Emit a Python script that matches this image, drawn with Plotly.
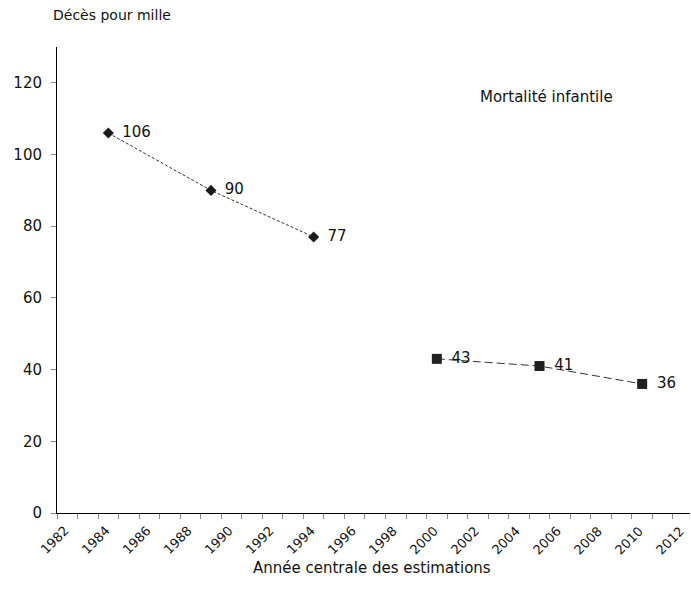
import plotly.graph_objects as go

years_a = [1984.5, 1989.5, 1994.5]
values_a = [106, 90, 77]
years_b = [2000.5, 2005.5, 2010.5]
values_b = [43, 41, 36]
x_tick_values = [1982, 1984, 1986, 1988, 1990, 1992, 1994, 1996, 1998,
                 2000, 2002, 2004, 2006, 2008, 2010, 2012]
x_tick_labels = ["1982", "1984", "1986", "1988", "1990", "1992", "1994", "1996",
                 "1998", "2000", "2002", "2004", "2006", "2008", "2010", "2012"]
y_title = "Décès pour mille"
x_title = "Année centrale des estimations"
series_note = "Mortalité infantile"

FONT = "DejaVu Sans"
W, H = 691, 601
L, R, T, B = 57, 1, 47, 88

fig = go.Figure()
fig.add_trace(go.Scatter(
    x=years_a, y=values_a, mode="lines+markers+text",
    texttemplate="\u2002%{y}", textposition="middle right",
    textfont=dict(family=FONT, size=15, color="#111111"),
    line=dict(color="#333333", width=1, dash="3px,2px"),
    marker=dict(symbol="diamond", size=8.5, color="#1a1a1a"),
    showlegend=False, cliponaxis=False))
fig.add_trace(go.Scatter(
    x=years_b, y=values_b, mode="lines+markers+text",
    texttemplate="\u2002%{y}", textposition="middle right",
    textfont=dict(family=FONT, size=15, color="#111111"),
    line=dict(color="#333333", width=1, dash="8px,4px"),
    marker=dict(symbol="square", size=10, color="#231f20"),
    showlegend=False, cliponaxis=False))

pw = W - L - R
ph = H - T - B

# rotated tick labels centred under each tick
for xv, lab in zip(x_tick_values, x_tick_labels):
    fig.add_annotation(text=lab, x=xv, xref="x", yref="paper",
                       y=-(540 - (H - B)) / ph, xanchor="center", yanchor="middle",
                       xshift=-3, textangle=-45, showarrow=False,
                       font=dict(family=FONT, size=13, color="#111111"))

fig.add_annotation(text=y_title, xref="paper", yref="paper",
                   x=(51 - L) / pw, y=((H - B) - 15) / ph, xanchor="left", yanchor="middle",
                   showarrow=False, font=dict(family=FONT, size=14, color="#111111"))
fig.add_annotation(text=x_title, xref="paper", yref="paper",
                   x=(372 - L) / pw, y=-(568 - (H - B)) / ph, xanchor="center", yanchor="middle",
                   showarrow=False, font=dict(family=FONT, size=15, color="#111111"))
fig.add_annotation(text=series_note, xref="paper", yref="paper",
                   x=(478 - L) / pw, y=((H - B) - 97) / ph, xanchor="left", yanchor="middle",
                   showarrow=False, font=dict(family=FONT, size=15, color="#111111"))

fig.update_layout(
    width=W, height=H,
    margin=dict(l=L, r=R, t=T, b=B, autoexpand=False),
    paper_bgcolor="white", plot_bgcolor="white",
    font=dict(family=FONT, size=15, color="#111111"),
)
fig.update_xaxes(
    range=[1982, 2012.83], tickmode="array", tickvals=x_tick_values,
    showticklabels=False, ticks="outside", ticklen=5, tickcolor="#888888",
    minor=dict(dtick=1, tick0=1982, ticks="outside", ticklen=5, tickcolor="#888888"),
    showline=True, linecolor="black", linewidth=1, showgrid=False, zeroline=False,
    automargin=False,
)
fig.update_yaxes(
    range=[0, 130], tickmode="linear", tick0=0, dtick=20,
    ticks="outside", ticklen=5, tickcolor="#888888", ticklabelstandoff=6,
    showline=True, linecolor="black", linewidth=1, showgrid=False, zeroline=False,
    automargin=False,
    tickfont=dict(family=FONT, size=15, color="#111111"),
)

fig.write_html("out.html", config={"displayModeBar": False},
               post_script="document.body.style.margin='0';document.body.style.overflow='hidden';")
